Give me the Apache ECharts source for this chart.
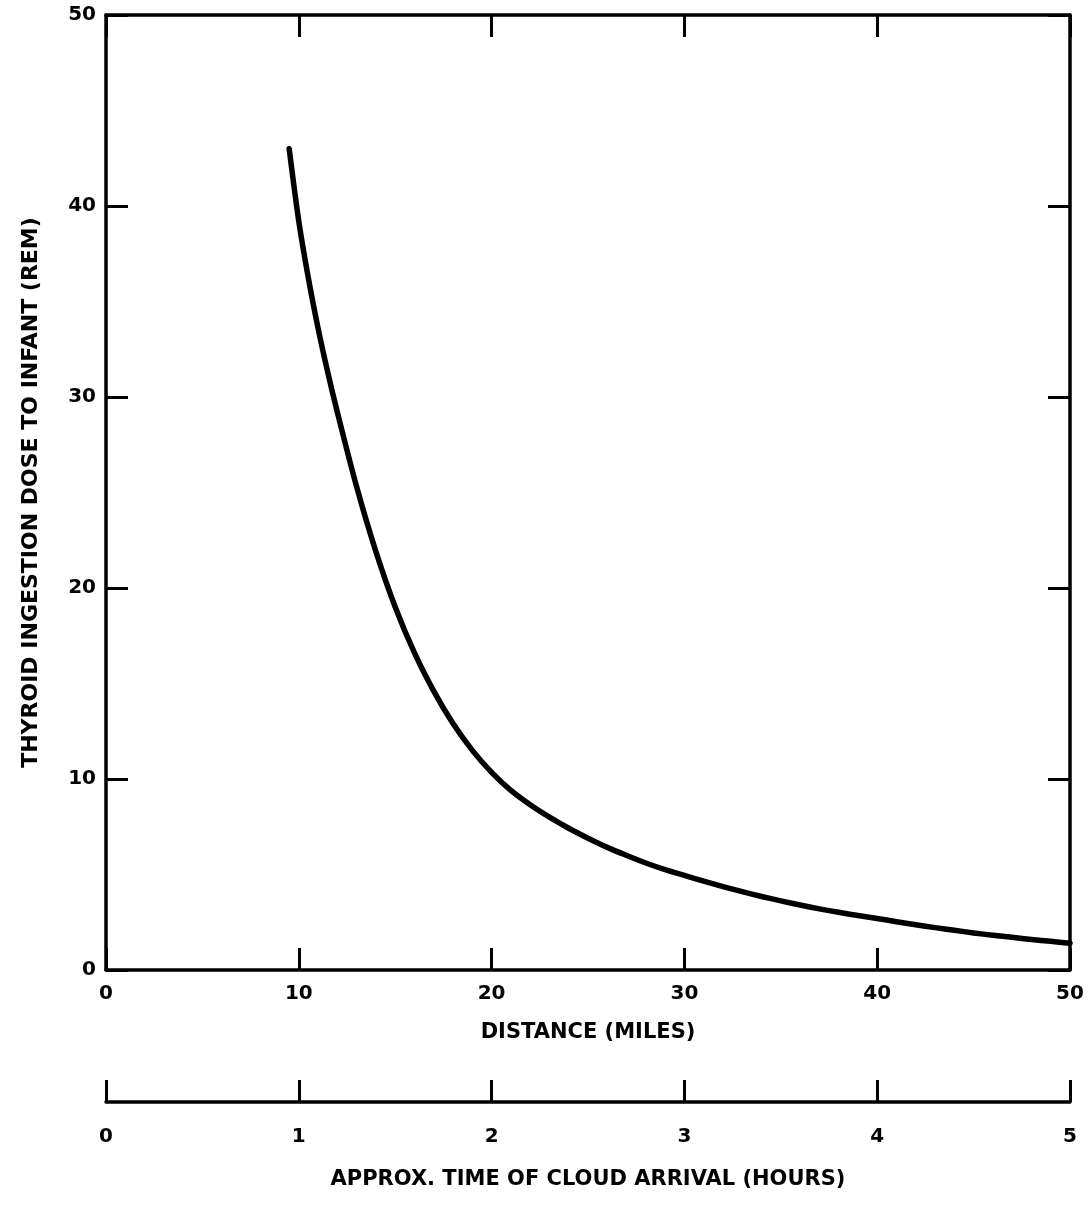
<!DOCTYPE html>
<html>
<head>
<meta charset="utf-8">
<script src="https://cdn.jsdelivr.net/npm/echarts@6/dist/echarts.min.js"></script>
<style>
html,body{margin:0;padding:0;background:#fff;}
#chart{width:1088px;height:1221px;}
</style>
</head>
<body>
<div id="chart"></div>
<script>
// Data
const distanceMiles = [9.5, 10, 10.5, 11, 11.5, 12, 13, 14, 15, 16, 17, 18, 19, 20, 21, 22, 23, 24, 25, 26, 27, 28, 29, 30, 31, 32, 33, 34, 35, 36, 37, 38, 39, 40, 41, 42, 43, 44, 45, 46, 47, 48, 49, 50];
const doseRem = [43.0, 39.2, 36.2, 33.6, 31.3, 29.2, 25.3, 21.9, 19.0, 16.6, 14.6, 12.9, 11.5, 10.35, 9.4, 8.65, 8.0, 7.42, 6.9, 6.42, 6.0, 5.6, 5.25, 4.95, 4.65, 4.37, 4.1, 3.85, 3.62, 3.4, 3.2, 3.02, 2.85, 2.7, 2.53, 2.37, 2.22, 2.08, 1.94, 1.82, 1.71, 1.6, 1.5, 1.4];
const distanceTicks = [0, 10, 20, 30, 40, 50];
const doseTicks = [0, 10, 20, 30, 40, 50];
const timeTicks = [0, 1, 2, 3, 4, 5];

const FONT = '"DejaVu Sans", "Liberation Sans", sans-serif';
const black = '#000';
const lineStyle = { color: black, width: 3.5 };
const tickStyle = { show: true, inside: true, length: 22, lineStyle: { color: black, width: 3 } };
const labelStyle = { color: black, fontFamily: FONT, fontWeight: 'bold', fontSize: 20 };
const nameStyleX = { color: black, fontFamily: FONT, fontWeight: 'bold', fontSize: 21 };
const nameStyleY = { color: black, fontFamily: FONT, fontWeight: 'bold', fontSize: 22 };

const chart = echarts.init(document.getElementById('chart'), null, { renderer: 'canvas' });
chart.setOption({
  backgroundColor: '#fff',
  animation: false,
  grid: [
    { left: 106, right: 18, top: 15, bottom: 251 },
    { left: 106, right: 18, top: 1080, height: 22 }
  ],
  xAxis: [
    {
      gridIndex: 0, type: 'value', position: 'bottom',
      min: distanceTicks[0], max: distanceTicks[distanceTicks.length - 1], interval: 10,
      axisLine: { show: true, onZero: false, lineStyle },
      axisTick: tickStyle,
      splitLine: { show: false },
      axisLabel: Object.assign({ margin: 14 }, labelStyle),
      name: 'DISTANCE (MILES)', nameLocation: 'middle', nameGap: 52, nameTextStyle: nameStyleX
    },
    {
      gridIndex: 0, type: 'value', position: 'top',
      min: 0, max: 50, interval: 10,
      axisLine: { show: true, onZero: false, lineStyle },
      axisTick: tickStyle,
      splitLine: { show: false },
      axisLabel: { show: false }
    },
    {
      gridIndex: 1, type: 'value', position: 'bottom',
      min: timeTicks[0], max: timeTicks[timeTicks.length - 1], interval: 1,
      axisLine: { show: true, onZero: false, lineStyle },
      axisTick: tickStyle,
      splitLine: { show: false },
      axisLabel: Object.assign({ margin: 25 }, labelStyle),
      name: 'APPROX. TIME OF CLOUD ARRIVAL (HOURS)', nameLocation: 'middle', nameGap: 67, nameTextStyle: nameStyleX
    }
  ],
  yAxis: [
    {
      gridIndex: 0, type: 'value', position: 'left',
      min: doseTicks[0], max: doseTicks[doseTicks.length - 1], interval: 10,
      axisLine: { show: true, onZero: false, lineStyle },
      axisTick: tickStyle,
      splitLine: { show: false },
      axisLabel: Object.assign({ margin: 10 }, labelStyle),
      name: 'THYROID INGESTION DOSE TO INFANT (REM)', nameLocation: 'middle', nameGap: 64, nameRotate: 90,
      nameTextStyle: nameStyleY
    },
    {
      gridIndex: 0, type: 'value', position: 'right',
      min: 0, max: 50, interval: 10,
      axisLine: { show: true, onZero: false, lineStyle },
      axisTick: tickStyle,
      splitLine: { show: false },
      axisLabel: { show: false }
    },
    {
      gridIndex: 1, type: 'value', show: false, min: 0, max: 1
    }
  ],
  series: [
    {
      type: 'line', xAxisIndex: 0, yAxisIndex: 0,
      data: distanceMiles.map((d, i) => [d, doseRem[i]]),
      smooth: 0.3, showSymbol: false, symbol: 'none',
      lineStyle: { color: black, width: 5.5, cap: 'round', join: 'round' },
      clip: false
    }
  ]
});
</script>
</body>
</html>
